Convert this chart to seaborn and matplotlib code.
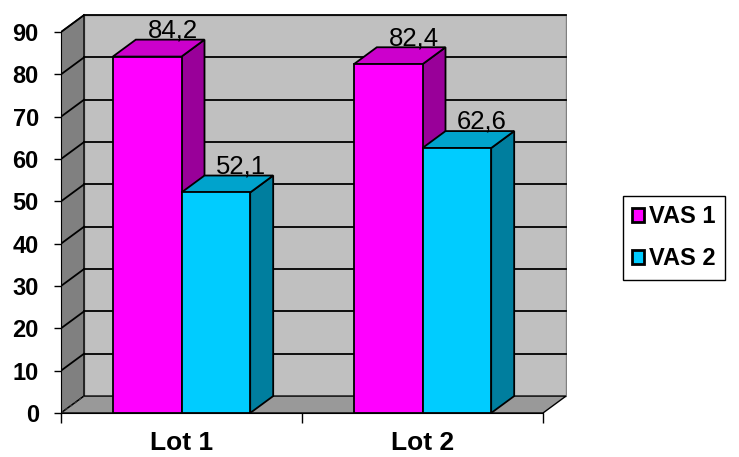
import numpy as np
import pandas as pd
import matplotlib
matplotlib.use("Agg")
import matplotlib.pyplot as plt
from matplotlib.patches import Polygon, Rectangle
import seaborn as sns

# data
lots = ['Lot 1', 'Lot 2']
series = ['VAS 1', 'VAS 2']
vas1 = [84.2, 82.4]
vas2 = [52.1, 62.6]
yticks = [0, 10, 20, 30, 40, 50, 60, 70, 80, 90]

front_colors = ['#FF00FF', '#00CCFF']
top_colors = ['#CC00CC', '#00A3CC']
side_colors = ['#990099', '#007E9E']

df = pd.DataFrame({
    'lot': lots * 2,
    'series': [series[0]] * 2 + [series[1]] * 2,
    'value': vas1 + vas2,
})

plt.rcParams['font.family'] = ['Liberation Sans', 'DejaVu Sans']

fig = plt.figure(figsize=(7.39, 4.57), dpi=100)
ax = fig.add_axes([61 / 739, 1 - 413 / 457, 506 / 739, 400 / 457])

sns.barplot(data=df, x='lot', y='value', hue='series', palette=front_colors,
            width=0.57, saturation=1, edgecolor='black', linewidth=1.3,
            legend=False, ax=ax)

# 3d depth offsets (in data units)
dx = 23 / 241
dy = 4.0
x0, x1 = -0.5, 1.5
ymax = 90

ax.set_xlim(x0, x0 + 506 / 241)
ax.set_ylim(0, 400 / 4.233)

# walls
ax.add_patch(Polygon([(x0 + dx, dy), (x1 + dx, dy), (x1 + dx, ymax + dy), (x0 + dx, ymax + dy)],
                     closed=True, facecolor='#C0C0C0', edgecolor='#808080', lw=1, zorder=0.5))
ax.add_patch(Polygon([(x0, 0), (x0 + dx, dy), (x0 + dx, ymax + dy), (x0, ymax)],
                     closed=True, facecolor='#808080', edgecolor='black', lw=1, zorder=0.6))
ax.add_patch(Polygon([(x0, 0), (x1, 0), (x1 + dx, dy), (x0 + dx, dy)],
                     closed=True, facecolor='#999999', edgecolor='black', lw=1, zorder=0.7))

# gridlines on back and left walls
for v in yticks[1:]:
    ax.plot([x0 + dx, x1 + dx], [v + dy, v + dy], color='black', lw=1.3, zorder=1)
    ax.plot([x0, x0 + dx], [v, v + dy], color='black', lw=1.3, zorder=1)
ax.plot([x0, x0 + dx], [0, dy], color='#333333', lw=1, ls=(0, (2, 2)), zorder=1)

# 3d faces for each bar
bars = []
for k, cont in enumerate(ax.containers):
    for p in cont.patches:
        bars.append((p.get_x(), k, p))
bars.sort(key=lambda b: b[0])
for i, (bx, k, p) in enumerate(bars):
    w = p.get_width()
    h = p.get_height()
    z = 3 + i * 0.1
    side = Polygon([(bx + w, 0), (bx + w + dx, dy), (bx + w + dx, h + dy), (bx + w, h)],
                   closed=True, facecolor=side_colors[k], edgecolor='black', lw=1.3, zorder=z)
    top = Polygon([(bx, h), (bx + dx, h + dy), (bx + w + dx, h + dy), (bx + w, h)],
                  closed=True, facecolor=top_colors[k], edgecolor='black', lw=1.3, zorder=z)
    ax.add_patch(side)
    ax.add_patch(top)
    p.set_zorder(z + 0.05)
    ax.text(bx + w / 2 + dx * 1.1, h + dy + 0.5, f'{h:.1f}'.replace('.', ','),
            ha='center', va='baseline', fontsize=18.5, zorder=10)

# axes styling
for s in ['top', 'right']:
    ax.spines[s].set_visible(False)
ax.spines['left'].set_bounds(0, ymax)
ax.spines['left'].set_zorder(2)
ax.spines['bottom'].set_bounds(x0, x1)
ax.spines['bottom'].set_zorder(2)
ax.set_yticks(yticks)
ax.set_yticklabels([str(v) for v in yticks], fontsize=17, fontweight='bold')
ax.tick_params(axis='y', length=5, width=1, pad=11)
ax.set_xticks([0, 1])
ax.set_xticklabels(lots, fontsize=19, fontweight='bold')
ax.set_xticks([-0.5, 0.5, 1.5], minor=True)
ax.tick_params(axis='x', which='major', length=0, pad=13)
ax.tick_params(axis='x', which='minor', length=7, width=1)
ax.set_xlabel('')
ax.set_ylabel('')
ax.patch.set_alpha(0)

handles = [Rectangle((0, 0), 1, 1, facecolor=c, edgecolor='black', lw=2) for c in front_colors]
fig.legend(handles, series, loc='upper left', bbox_to_anchor=(623 / 739, 1 - 196 / 457),
           frameon=True, fancybox=False, edgecolor='black', framealpha=1,
           prop={'size': 17, 'weight': 'bold'}, handlelength=0.5, handleheight=0.5,
           handletextpad=0.2, labelspacing=0.8, borderpad=0.4, borderaxespad=0)

fig.savefig('out.png', dpi=100)
